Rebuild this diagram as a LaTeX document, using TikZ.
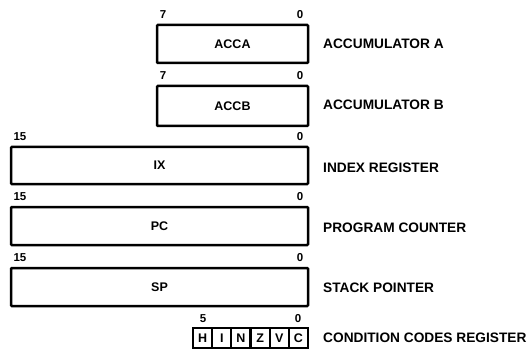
\documentclass[tikz,border=0pt]{standalone}
\usepackage{fontspec}
\setmainfont{Liberation Sans}
\begin{document}
\begin{tikzpicture}[x=1pt,y=-1pt,
  regbox/.style={draw=black, line width=2.5pt, inner sep=0pt, outer sep=0pt,
    font=\fontsize{12.5}{14}\selectfont\bfseries, rounded corners=0.8pt},
  bitnum/.style={inner sep=0pt, font=\fontsize{11.5}{13}\selectfont\bfseries},
  reglabel/.style={anchor=west, inner sep=0pt, font=\fontsize{13.7}{16}\selectfont\bfseries},
  ccbit/.style={draw=black, line width=2.2pt, inner sep=0pt, outer sep=0pt,
    minimum width=19.17pt, minimum height=20pt, font=\fontsize{12.5}{14}\selectfont\bfseries}]
\useasboundingbox (0,0) rectangle (531,353);
% boxes
\node[regbox, minimum width=151pt, minimum height=38pt] (acca) at (232.5,44) {ACCA};
\node[regbox, minimum width=151pt, minimum height=40pt] (accb) at (232.5,106) {ACCB};
\node[regbox, minimum width=297pt, minimum height=37pt] (ix) at (159.5,165.5) {IX};
\node[regbox, minimum width=297pt, minimum height=38pt] (pc) at (159.5,226) {PC};
\node[regbox, minimum width=297pt, minimum height=38pt] (sp) at (159.5,287) {SP};
% condition codes
\node[ccbit] (ccH) at (202.58,338) {H};
\node[ccbit] (ccI) at (221.75,338) {I};
\node[ccbit] (ccN) at (240.92,338) {N};
\node[ccbit] (ccZ) at (260.08,338) {Z};
\node[ccbit] (ccV) at (279.25,338) {V};
\node[ccbit] (ccC) at (298.42,338) {C};
% bit numbers
\node[bitnum] (a7) at (163,15) {7};
\node[bitnum] (a0) at (300,15) {0};
\node[bitnum] (b7) at (163,76) {7};
\node[bitnum] (b0) at (300,76) {0};
\node[bitnum] (x15) at (20,137) {15};
\node[bitnum] (x0) at (300,137) {0};
\node[bitnum] (p15) at (20,197) {15};
\node[bitnum] (p0) at (300,197) {0};
\node[bitnum] (s15) at (20,258) {15};
\node[bitnum] (s0) at (300,258) {0};
\node[bitnum] (c5) at (203,319) {5};
\node[bitnum] (c0) at (298,319) {0};
% labels
\node[reglabel] (la) at (323,44) {ACCUMULATOR A};
\node[reglabel] (lb) at (323,105) {ACCUMULATOR B};
\node[reglabel] (lx) at (323,168) {INDEX REGISTER};
\node[reglabel] (lp) at (323,228) {PROGRAM COUNTER};
\node[reglabel] (ls) at (323,288) {STACK POINTER};
\node[reglabel] (lc) at (323,338) {CONDITION CODES REGISTER};
\end{tikzpicture}
\end{document}
